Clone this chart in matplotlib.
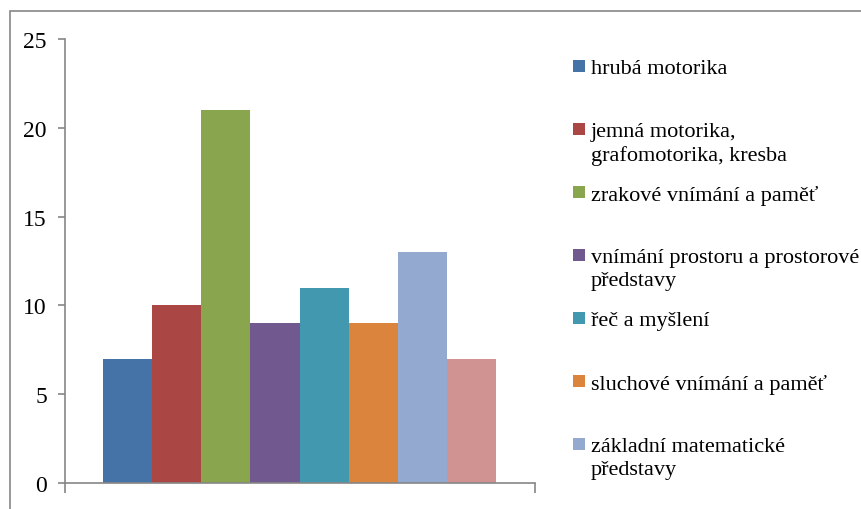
import matplotlib.pyplot as plt
from matplotlib.patches import Rectangle

# values
values = [7, 10, 21, 9, 11, 9, 13, 7]
labels = [
    'hrubá motorika',
    'jemná motorika,\ngrafomotorika, kresba',
    'zrakové vnímání a paměť',
    'vnímání prostoru a prostorové\npředstavy',
    'řeč a myšlení',
    'sluchové vnímání a paměť',
    'základní matematické\npředstavy',
]
colors = ['#4572A7', '#AA4643', '#89A54E', '#71588F',
          '#4198AF', '#DB843D', '#93A9CF', '#D19392']
yticks = [0, 5, 10, 15, 20, 25]

plt.rcParams['font.family'] = ['Liberation Serif', 'DejaVu Serif']
W, H = 862, 510
fig = plt.figure(figsize=(W / 100, H / 100), dpi=100)

# outer chart border (right and bottom are cut off in the reference)
fig.patches.append(Rectangle((10 / W, -0.2), 1.2, 1.2 - 12 / H,
                             transform=fig.transFigure, fill=False,
                             edgecolor='#868686', linewidth=1.2))

ax = fig.add_axes([65 / W, 1 - 484 / H, 470 / W, 444 / H])
x = list(range(len(values)))
ax.bar(x, values, width=1.0, color=colors, linewidth=0)

ax.set_ylim(0, 25)
ax.set_xlim(-1.27, 8.29)
ax.set_yticks(yticks)
ax.set_xticks([-1.27, 8.29])
ax.set_xticklabels([])
for s in ['top', 'right']:
    ax.spines[s].set_visible(False)
for s in ['left', 'bottom']:
    ax.spines[s].set_color('#868686')
    ax.spines[s].set_linewidth(1.2)
ax.tick_params(axis='both', direction='out', length=5, width=1.2,
               color='#868686', labelsize=17, pad=8)
ax.tick_params(axis='x', length=7)

# legend drawn by hand, one slot per series
first_y = 67
step = 63
for i, (lab, col) in enumerate(zip(labels, colors)):
    yc = first_y + i * step
    fig.patches.append(Rectangle((573 / W, 1 - (yc + 6) / H), 12 / W, 12 / H,
                                 transform=fig.transFigure, facecolor=col,
                                 edgecolor='none'))
    fig.text(591 / W, 1 - (yc - 7) / H, lab, fontsize=16, va='top',
             ha='left', linespacing=1.3)

fig.savefig('out.png', dpi=100)
